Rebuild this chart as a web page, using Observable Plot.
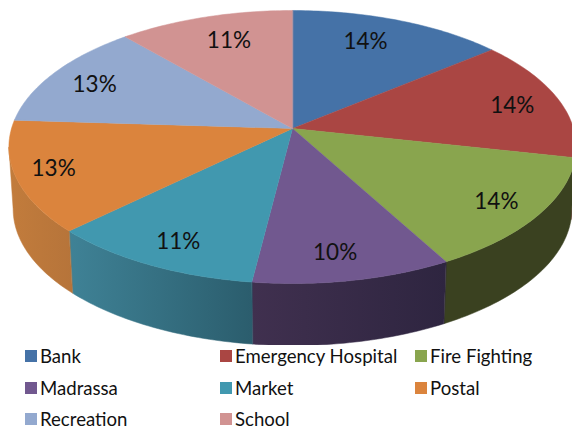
<!DOCTYPE html>
<html>
<head>
<meta charset="utf-8">
<script src="https://cdn.jsdelivr.net/npm/d3@7"></script>
<script src="https://cdn.jsdelivr.net/npm/@observablehq/plot@0.6"></script>
<style>
  html, body { margin: 0; padding: 0; background: #fff; }
  #chart svg { display: block; }
  #legend { display: grid; grid-template-columns: 195px 195px 150px; grid-auto-rows: 22px; row-gap: 9.5px;
            padding-left: 25px; font: 18.6px Lato, sans-serif; color: #111; }
  #legend div { display: flex; align-items: center; white-space: nowrap; }
  #legend i { width: 12px; height: 12px; margin-right: 3px; display: block; }
</style>
</head>
<body>
<div id="chart"></div>
<div id="legend"></div>
<script>
const categories = ["Bank", "Emergency Hospital", "Fire Fighting", "Madrassa", "Market", "Postal", "Recreation", "School"];
const shares = [14, 14.4, 13.6, 10, 10.8, 13.2, 12.6, 11.4];
const topColors = ["#4572a7", "#aa4643", "#89a54e", "#71588f", "#4198af", "#db843d", "#93a9cf", "#d19392"];
const wallLeft = ["#2f4d72", "#74302e", "#3a4120", "#40304f", "#3f8296", "#c27c3c", "#64738d", "#8e6463"];
const wallRight = ["#2f4d72", "#74302e", "#3a4120", "#2e2540", "#2b5d6d", "#b6743a", "#64738d", "#8e6463"];

// Perspective view of the pie disc
const W = 572, H = 345, cx = 292, cy = 128, rx = 281, ry = 134, persp = 0.1355, depth = 62, baseShrink = 0.985;
const project = (deg, r = 1, base = false) => {
  const a = deg * Math.PI / 180, X = r * Math.sin(a), Y = r * Math.cos(a), w = 1 + persp * Y;
  return {
    x: cx + (base ? baseShrink : 1) * rx * X / w,
    y: cy - ry * Y / w + (base ? depth : 0)
  };
};
// The wall faces the viewer between the disc's two side tangents
const tangent = Math.asin(persp) * 180 / Math.PI;
const wallFrom = 90 + tangent, wallTo = 270 - tangent;

// Label placement within each slice: fraction of radius and angular shift
const labelRadius = [0.767, 0.82, 0.846, 0.834, 0.84, 0.866, 0.813, 0.762];
const labelShift = [-3.4, 1.3, 0.3, 1.5, -0.9, 0.8, -1.3, 1.5];

const sweep = (a0, a1) => {
  const n = Math.max(2, Math.ceil(a1 - a0));
  return d3.range(n + 1).map(k => a0 + (a1 - a0) * k / n);
};
const total = d3.sum(shares);
const ends = d3.cumsum(shares).map(v => v / total * 360);
const slices = categories.map((name, i) => {
  const a0 = i ? ends[i - 1] : 0, a1 = ends[i];
  const w0 = Math.max(a0, wallFrom), w1 = Math.min(a1, wallTo);
  const wall = w1 > w0
    ? [...sweep(w0, w1).map(d => project(d)), ...sweep(w0, w1).reverse().map(d => project(d, 1, true))]
    : [];
  return {
    i, name, share: shares[i], mid: (a0 + a1) / 2,
    face: [{x: cx, y: cy}, ...sweep(a0, a1).map(d => project(d))],
    wall
  };
});
const visibleWalls = slices.filter(s => s.wall.length);

// Gradients for the shaded side walls
const defs = d3.create("svg:defs");
visibleWalls.forEach(s => {
  const g = defs.append("linearGradient").attr("id", `wall-${s.i}`)
    .attr("gradientUnits", "userSpaceOnUse")
    .attr("x1", d3.min(s.wall, p => p.x)).attr("x2", d3.max(s.wall, p => p.x))
    .attr("y1", 0).attr("y2", 0);
  g.append("stop").attr("offset", 0).attr("stop-color", wallLeft[s.i]);
  g.append("stop").attr("offset", 1).attr("stop-color", wallRight[s.i]);
});

const labels = slices.map(s => ({
  ...project(s.mid + labelShift[s.i], labelRadius[s.i]),
  text: `${Math.round(s.share)}%`
}));

const plot = Plot.plot({
  width: W, height: H, margin: 0,
  x: {domain: [0, W], range: [0, W], axis: null},
  y: {domain: [0, H], range: [0, H], axis: null},
  marks: [
    () => defs.node(),
    ...visibleWalls.map(s => Plot.line(s.wall, {
      x: "x", y: "y", curve: "linear-closed",
      fill: `url(#wall-${s.i})`, stroke: `url(#wall-${s.i})`, strokeWidth: 0.5
    })),
    ...slices.map(s => Plot.line(s.face, {
      x: "x", y: "y", curve: "linear-closed",
      fill: topColors[s.i], stroke: topColors[s.i], strokeWidth: 0.5
    })),
    Plot.text(labels, {
      x: "x", y: "y", text: "text", fill: "#111",
      fontFamily: "Lato, sans-serif", fontSize: 22.5, textAnchor: "middle"
    })
  ]
});
document.getElementById("chart").append(plot);

const legend = d3.select("#legend");
categories.forEach((name, i) => {
  const item = legend.append("div");
  item.append("i").style("background", topColors[i]);
  item.append("span").text(name);
});
</script>
</body>
</html>
